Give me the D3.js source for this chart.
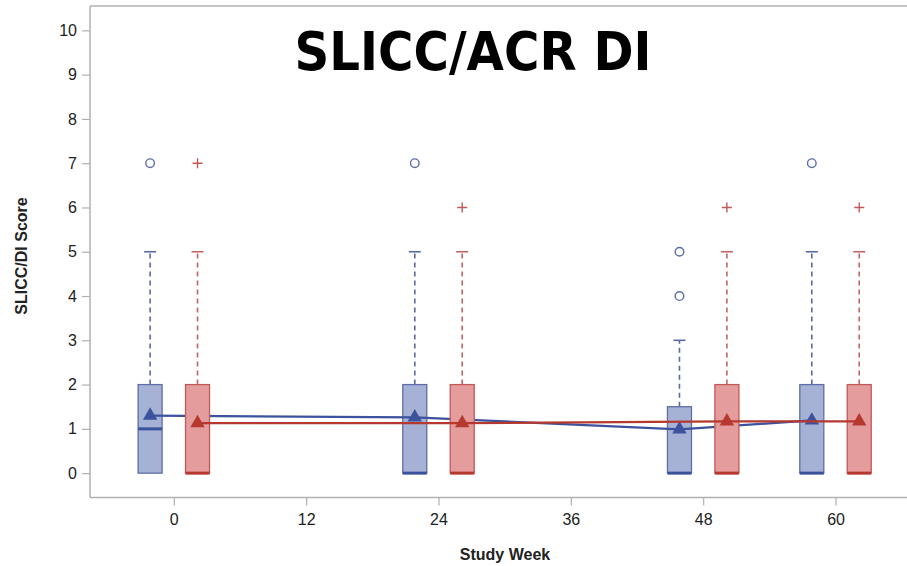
<!DOCTYPE html>
<html><head><meta charset="utf-8">
<script src="https://cdn.jsdelivr.net/npm/d3@7"></script>
<style>body{margin:0;background:#fff}svg{display:block}</style>
</head><body>
<svg id="c" width="907" height="566"></svg>
<script>
const weeks = [0, 24, 48, 60];
const xTicks = [0, 12, 24, 36, 48, 60];
const yTicks = [0,1,2,3,4,5,6,7,8,9,10];
// Group 1 (blue)
const blueQ1 = [0, 0, 0, 0];
const blueMedian = [1, 0, 0, 0];
const blueQ3 = [2, 2, 1.5, 2];
const blueWhisker = [5, 5, 3, 5];
const blueOutliers = [[7], [7], [4, 5], [7]];
const blueMean = [1.3, 1.26, 0.99, 1.19];
// Group 2 (red)
const redQ1 = [0, 0, 0, 0];
const redMedian = [0, 0, 0, 0];
const redQ3 = [2, 2, 2, 2];
const redWhisker = [5, 5, 5, 5];
const redOutliers = [[7], [6], [6], [6]];
const redMean = [1.13, 1.13, 1.17, 1.17];

const svg = d3.select("#c");
const x = d3.scaleLinear().domain([-7.6, 66.3]).range([90, 905]);
const y = d3.scaleLinear().domain([-0.55, 10.55]).range([497.5, 6]);
const off = 2.15, bw = 24;

const axisCol = "#b0b0b0";
// frame top
svg.append("line").attr("x1",90).attr("x2",907).attr("y1",6).attr("y2",6).attr("stroke",axisCol).attr("stroke-width",1.5);

const ya = svg.append("g").attr("transform","translate(90,0)")
  .call(d3.axisLeft(y).tickValues(yTicks).tickSize(8).tickPadding(5));
const xa = svg.append("g").attr("transform","translate(0,497.5)")
  .call(d3.axisBottom(x).tickValues(xTicks).tickSize(8).tickPadding(8));
[ya, xa].forEach(a=>{
  a.select(".domain").attr("stroke",axisCol).attr("stroke-width",1.5);
  a.selectAll(".tick line").attr("stroke",axisCol).attr("stroke-width",1.2);
  a.selectAll("text").attr("font-family","Liberation Sans, Arial, sans-serif").attr("font-size",16).attr("fill","#222");
});
ya.select(".domain").attr("d","M0,6V497.5");
xa.select(".domain").attr("d","M90,0H907");

const groups = [
  {dir:-1, q1:blueQ1, med:blueMedian, q3:blueQ3, wh:blueWhisker, out:blueOutliers, mean:blueMean,
   fill:"#a6b1d6", stroke:"#5d6ea8", dark:"#3c529c", whisk:"#5b6a9e", sym:"circle"},
  {dir:1, q1:redQ1, med:redMedian, q3:redQ3, wh:redWhisker, out:redOutliers, mean:redMean,
   fill:"#e59c9c", stroke:"#c25858", dark:"#b5392e", whisk:"#c06565", sym:"plus"}
];

groups.forEach(g=>{
  weeks.forEach((w,i)=>{
    const cx = x(w + g.dir*off);
    svg.append("line").attr("x1",cx).attr("x2",cx).attr("y1",y(g.q3[i])).attr("y2",y(g.wh[i]))
      .attr("stroke",g.whisk).attr("stroke-width",1.6).attr("stroke-dasharray","5,4");
    svg.append("line").attr("x1",cx-6).attr("x2",cx+6).attr("y1",y(g.wh[i])).attr("y2",y(g.wh[i]))
      .attr("stroke",g.whisk).attr("stroke-width",1.6);
    svg.append("rect").attr("x",cx-bw/2).attr("width",bw).attr("y",y(g.q3[i])).attr("height",y(g.q1[i])-y(g.q3[i]))
      .attr("fill",g.fill).attr("stroke",g.stroke).attr("stroke-width",1.3);
    svg.append("line").attr("x1",cx-bw/2).attr("x2",cx+bw/2).attr("y1",y(g.med[i])).attr("y2",y(g.med[i]))
      .attr("stroke",g.dark).attr("stroke-width",3);
    g.out[i].forEach(v=>{
      if (g.sym==="circle") {
        svg.append("circle").attr("cx",cx).attr("cy",y(v)).attr("r",4.3).attr("fill","none").attr("stroke",g.stroke).attr("stroke-width",1.4);
      } else {
        svg.append("path").attr("d",`M${cx-5},${y(v)}H${cx+5}M${cx},${y(v)-5}V${y(v)+5}`).attr("stroke",g.stroke).attr("stroke-width",1.4);
      }
    });
  });
  const line = d3.line().x((d,i)=>x(weeks[i]+g.dir*off)).y(d=>y(d));
  svg.append("path").attr("d",line(g.mean)).attr("fill","none").attr("stroke",g.dark).attr("stroke-width",2.2);
  g.mean.forEach((m,i)=>{
    svg.append("path").attr("d",d3.symbol(d3.symbolTriangle,90)())
      .attr("transform",`translate(${x(weeks[i]+g.dir*off)},${y(m)})`).attr("fill",g.dark);
  });
});

svg.append("text").attr("x",473).attr("y",70).attr("text-anchor","middle")
  .attr("font-family","DejaVu Sans, Verdana, sans-serif").attr("font-weight","bold").attr("font-size",54)
  .attr("textLength",357).attr("lengthAdjust","spacingAndGlyphs").text("SLICC/ACR DI");
svg.append("text").attr("x",505).attr("y",560).attr("text-anchor","middle")
  .attr("font-family","Liberation Sans, Arial, sans-serif").attr("font-weight","bold").attr("font-size",16).attr("fill","#222")
  .text("Study Week");
svg.append("text").attr("transform","translate(27,256) rotate(-90)").attr("text-anchor","middle")
  .attr("font-family","Liberation Sans, Arial, sans-serif").attr("font-weight","bold").attr("font-size",16).attr("fill","#222")
  .text("SLICC/DI Score");
</script>
</body></html>
